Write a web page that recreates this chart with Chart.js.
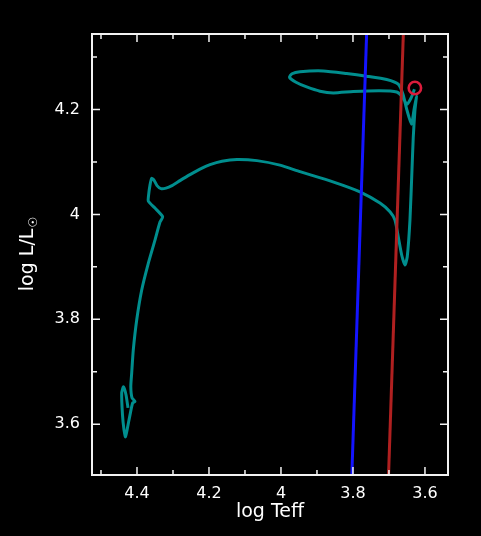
<!DOCTYPE html>
<html><head><meta charset="utf-8">
<script src="https://cdn.jsdelivr.net/npm/chart.js@4"></script>
<style>html,body{margin:0;padding:0;background:#000;overflow:hidden;}</style>
</head><body>
<canvas id="c" width="481" height="536" style="display:block;width:481px;height:536px"></canvas>
<script>
// Evolutionary track (log Teff, log L/Lsun)
const trackLogTeff = [4.425,4.4306,4.4375,4.4425,4.4403,4.4361,4.4319,4.4264,4.4194,4.4119,4.4056,4.4139,4.4172,4.4147,4.4103,4.4008,4.3869,4.3686,4.35,4.3361,4.3286,4.35,4.3686,4.3681,4.3639,4.3592,4.3528,4.3444,4.3333,4.3194,4.3028,4.2806,4.2528,4.225,4.1972,4.1639,4.1222,4.0667,4.0028,3.9472,3.8556,3.7806,3.725,3.6972,3.6833,3.6742,3.6647,3.6556,3.6492,3.6417,3.6361,3.6325,3.6278,3.6236,3.6306,3.6375,3.65,3.6611,3.6742,3.7064,3.7619,3.8175,3.8825,3.9472,3.9694,3.9764,3.9583,3.9286,3.8917,3.8547,3.7992,3.725,3.6786,3.6639,3.65,3.6389,3.6292];
const trackLogL = [3.631,3.656,3.671,3.6596,3.6177,3.5891,3.5758,3.593,3.6177,3.6406,3.6434,3.6501,3.6716,3.6977,3.7415,3.7987,3.8558,3.9067,3.951,3.9853,3.9954,4.012,4.0253,4.0349,4.0558,4.0686,4.0653,4.0549,4.0491,4.0501,4.0549,4.0644,4.0758,4.0863,4.0949,4.1015,4.1048,4.1025,4.0939,4.0815,4.0621,4.043,4.0215,4.005,3.9891,3.9573,3.9225,3.9034,3.9192,3.9891,4.0844,4.1472,4.1987,4.2253,4.1987,4.172,4.1987,4.2291,4.2482,4.2571,4.2634,4.2686,4.2735,4.272,4.2682,4.2615,4.252,4.243,4.2349,4.2316,4.2343,4.2358,4.2335,4.2253,4.2101,4.2215,4.2387];
// Instability strip edges
const blueEdgeLogTeff = [3.8033, 3.7618];
const blueEdgeLogL = [3.50, 4.35];
const redEdgeLogTeff = [3.7013, 3.6598];
const redEdgeLogL = [3.50, 4.35];
// Current model marker
const markerLogTeff = [3.628];
const markerLogL = [4.241];
// Tick labels
const xTickLabels = [4.4, 4.2, 4.0, 3.8, 3.6];
const xMinorTicks = [4.5, 4.3, 4.1, 3.9, 3.7];
const yTickLabels = [3.6, 3.8, 4.0, 4.2];
const yMinorTicks = [3.7, 3.9, 4.1, 4.3];

const pts = (xs, ys) => xs.map((x, i) => ({x: x, y: ys[i]}));
const FONT = "'DejaVu Sans', sans-serif";

const framePlugin = {
  id: 'frame',
  beforeDraw(chart) {
    const ctx = chart.ctx;
    ctx.save();
    ctx.fillStyle = '#000';
    ctx.fillRect(0, 0, chart.width, chart.height);
    ctx.restore();
  },
  afterDraw(chart) {
    const ctx = chart.ctx, a = chart.chartArea;
    const xs = chart.scales.x, ys = chart.scales.y;
    ctx.save();
    ctx.strokeStyle = '#f2f2f2';
    ctx.lineWidth = 1.5;
    ctx.beginPath();
    const tick = (v, len, horiz) => {
      if (horiz) {
        const p = xs.getPixelForValue(v);
        ctx.moveTo(p, a.bottom); ctx.lineTo(p, a.bottom - len);
        ctx.moveTo(p, a.top); ctx.lineTo(p, a.top + len);
      } else {
        const p = ys.getPixelForValue(v);
        ctx.moveTo(a.left, p); ctx.lineTo(a.left + len, p);
        ctx.moveTo(a.right, p); ctx.lineTo(a.right - len, p);
      }
    };
    xTickLabels.forEach(v => tick(v, 8, true));
    xMinorTicks.forEach(v => tick(v, 5, true));
    yTickLabels.forEach(v => tick(v, 8, false));
    yMinorTicks.forEach(v => tick(v, 5, false));
    ctx.stroke();
    ctx.lineWidth = 2;
    ctx.strokeRect(a.left, a.top, a.right - a.left, a.bottom - a.top);
    // y-axis title with subscript sun symbol
    const main = 'log L/L', sub = '\u2609';
    ctx.fillStyle = '#fff';
    ctx.translate(33, (a.top + a.bottom) / 2);
    ctx.rotate(-Math.PI / 2);
    ctx.font = '19px ' + FONT;
    const wm = ctx.measureText(main).width;
    ctx.font = '12px ' + FONT;
    const wsub = ctx.measureText(sub).width;
    const start = -(wm + wsub) / 2;
    ctx.textBaseline = 'alphabetic';
    ctx.textAlign = 'left';
    ctx.font = '19px ' + FONT;
    ctx.fillText(main, start, 0);
    ctx.font = '12px ' + FONT;
    ctx.fillText(sub, start + wm + 1, 4);
    ctx.restore();
  }
};

new Chart(document.getElementById('c'), {
  type: 'scatter',
  data: {
    datasets: [
      {data: pts(markerLogTeff, markerLogL), pointRadius: 6.2, pointBorderWidth: 2.6,
       pointBorderColor: '#dc1c3c', pointBackgroundColor: 'rgba(0,0,0,0)', showLine: false, order: 0},
      {data: pts(blueEdgeLogTeff, blueEdgeLogL), showLine: true, borderColor: '#1414ff', borderWidth: 3,
       pointRadius: 0, clip: 0, order: 1},
      {data: pts(redEdgeLogTeff, redEdgeLogL), showLine: true, borderColor: '#b02020', borderWidth: 3,
       pointRadius: 0, clip: 0, order: 1},
      {data: pts(trackLogTeff, trackLogL), showLine: true, borderColor: '#008e8e', borderWidth: 3,
       pointRadius: 0, tension: 0.2, order: 2}
    ]
  },
  options: {
    responsive: false,
    animation: false,
    devicePixelRatio: 1,
    layout: {padding: {top: 34, right: 33, left: 0, bottom: 0}},
    plugins: {legend: {display: false}, tooltip: {enabled: false}},
    scales: {
      x: {
        type: 'linear', reverse: true, min: 3.536, max: 4.525,
        afterBuildTicks: s => { s.ticks = xTickLabels.map(v => ({value: v})); },
        afterFit: s => { s.height = 61; },
        grid: {display: false, drawTicks: false},
        border: {display: false},
        ticks: {color: '#fff', font: {family: FONT, size: 16}, padding: 9, autoSkip: false, maxRotation: 0,
                callback: v => String(v)},
        title: {display: true, text: 'log Teff', color: '#fff', font: {family: FONT, size: 19},
                padding: {top: 0, bottom: 13}}
      },
      y: {
        type: 'linear', min: 3.503, max: 4.344,
        afterBuildTicks: s => { s.ticks = yTickLabels.map(v => ({value: v})); },
        afterFit: s => { s.width = 92; },
        grid: {display: false, drawTicks: false},
        border: {display: false},
        ticks: {color: '#fff', font: {family: FONT, size: 16}, padding: 12, autoSkip: false,
                callback: v => String(v)}
      }
    }
  },
  plugins: [framePlugin]
});
</script>
</body></html>
